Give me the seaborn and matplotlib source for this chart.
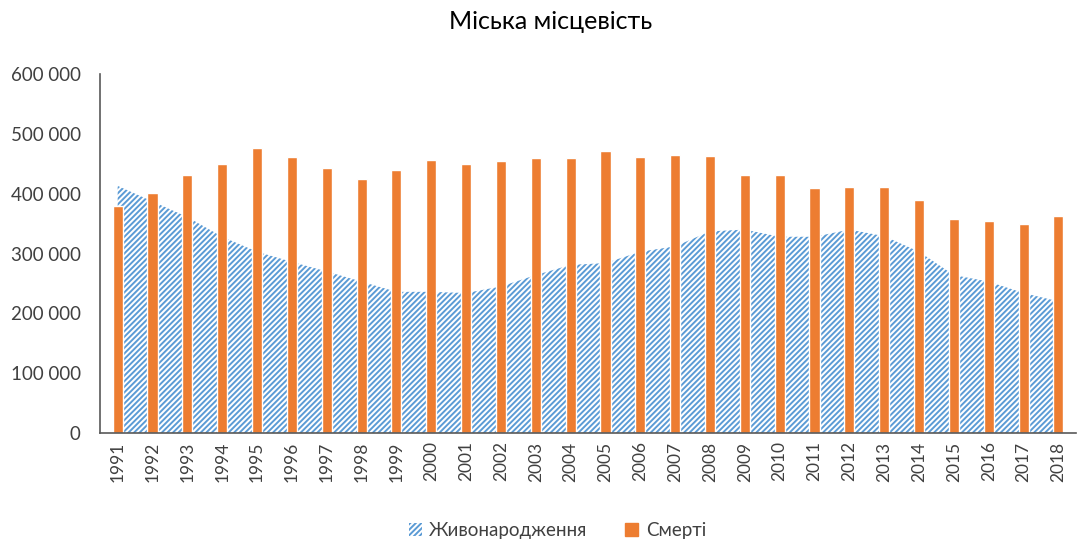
import numpy as np
import pandas as pd
import matplotlib
matplotlib.use('Agg')
import matplotlib.pyplot as plt
import seaborn as sns
from matplotlib.patches import Patch
from matplotlib.ticker import FuncFormatter

# Data
years = [str(y) for y in range(1991, 2019)]
births = [413000, 387000, 361000, 328000, 303000, 286000, 270000, 253000, 236000, 236000,
          234000, 245000, 264000, 281000, 284000, 303000, 312000, 337000, 340000, 328000,
          328000, 340000, 329000, 303000, 264000, 253000, 234000, 220000]
deaths = [380000, 401000, 431000, 450000, 477000, 461000, 443000, 425000, 440000, 456000,
          450000, 455000, 460000, 460000, 472000, 461000, 465000, 463000, 431000, 431000,
          410000, 411000, 411000, 390000, 358000, 355000, 350000, 363000]
title = 'Міська місцевість'
births_label = 'Живонародження'
deaths_label = 'Смерті'

df = pd.DataFrame({'year': years, 'births': births, 'deaths': deaths})

sns.set_style('white')
plt.rcParams['font.family'] = ['Lato', 'DejaVu Sans']
plt.rcParams['hatch.linewidth'] = 1.4

blue = '#5B9BD5'
orange = '#ED7D31'
text_col = '#404040'

fig = plt.figure(figsize=(10.78, 5.4), dpi=100)
ax = fig.add_axes([0.093, 0.198, 0.905, 0.665])

# Births as hatched area
x = np.arange(len(years))
ax.fill_between(x, 0, df['births'], facecolor='white', edgecolor=blue,
                hatch='//////', linewidth=0, zorder=1)

# Deaths as bars
sns.barplot(data=df, x='year', y='deaths', color=orange, width=0.29,
            saturation=1, ax=ax, zorder=2)

ax.set_xlim(-0.5, len(years) - 0.5)
ax.set_ylim(0, 600000)
ax.set_yticks(range(0, 600001, 100000))
ax.yaxis.set_major_formatter(FuncFormatter(lambda v, p: f'{int(v):,}'.replace(',', ' ')))
ax.set_xlabel('')
ax.set_ylabel('')
ax.tick_params(axis='x', rotation=90, labelsize=12.5, colors=text_col, length=0, pad=6)
ax.tick_params(axis='y', labelsize=13.5, colors=text_col, length=0, pad=14)

for s in ['top', 'right']:
    ax.spines[s].set_visible(False)
for s in ['left', 'bottom']:
    ax.spines[s].set_color('#595959')
    ax.spines[s].set_linewidth(1.2)

fig.suptitle(title, x=0.511, y=0.982, fontsize=18, color='black')

handles = [Patch(facecolor='white', edgecolor=blue, hatch='//////', linewidth=0),
           Patch(facecolor=orange, edgecolor=orange)]
fig.legend(handles, [births_label, deaths_label], loc='lower center', ncol=2,
           frameon=False, bbox_to_anchor=(0.517, -0.03), fontsize=13.5,
           handlelength=0.7, handleheight=0.7, columnspacing=2.0, handletextpad=0.4,
           labelcolor=text_col)

fig.savefig('out.png', dpi=100)
